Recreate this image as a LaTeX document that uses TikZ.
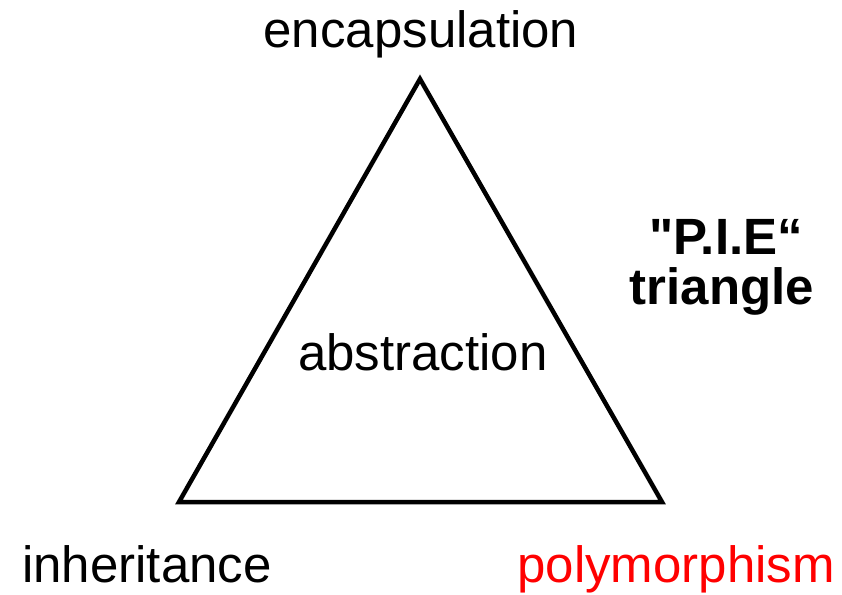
\documentclass[tikz,border=0pt]{standalone}
\usepackage{fontspec}
% keep the straight double quote as typed
\setmainfont{Liberation Sans}[Ligatures=TeXOff]
\begin{document}
\begin{tikzpicture}[x=1pt,y=-1pt,
  label/.style={anchor=base,inner sep=0pt,font=\fontsize{51}{50}\selectfont},
  title/.style={label,font=\fontsize{51}{50}\selectfont\bfseries},
  edge/.style={line width=4.5pt,line join=miter}]
  \useasboundingbox (0,0) rectangle (842,594);
  % corners of the triangle
  \coordinate (top) at (420,79);
  \coordinate (left) at (179,502);
  \coordinate (right) at (662,502);
  \draw[edge] (top) -- (left) -- (right) -- cycle;
  % corner and centre labels
  \node[label] (enc) at (421,48) {encapsulation};
  \node[label] (abs) at (423,370) {abstraction};
  \node[label] (inh) at (147,582) {inheritance};
  \node[label,text=red] (poly) at (676,582) {polymorphism};
  % title
  \node[title] (pie) at (726,254) {"P.I.E“};
  \node[title] (tri) at (722,304) {triangle};
\end{tikzpicture}
\end{document}
